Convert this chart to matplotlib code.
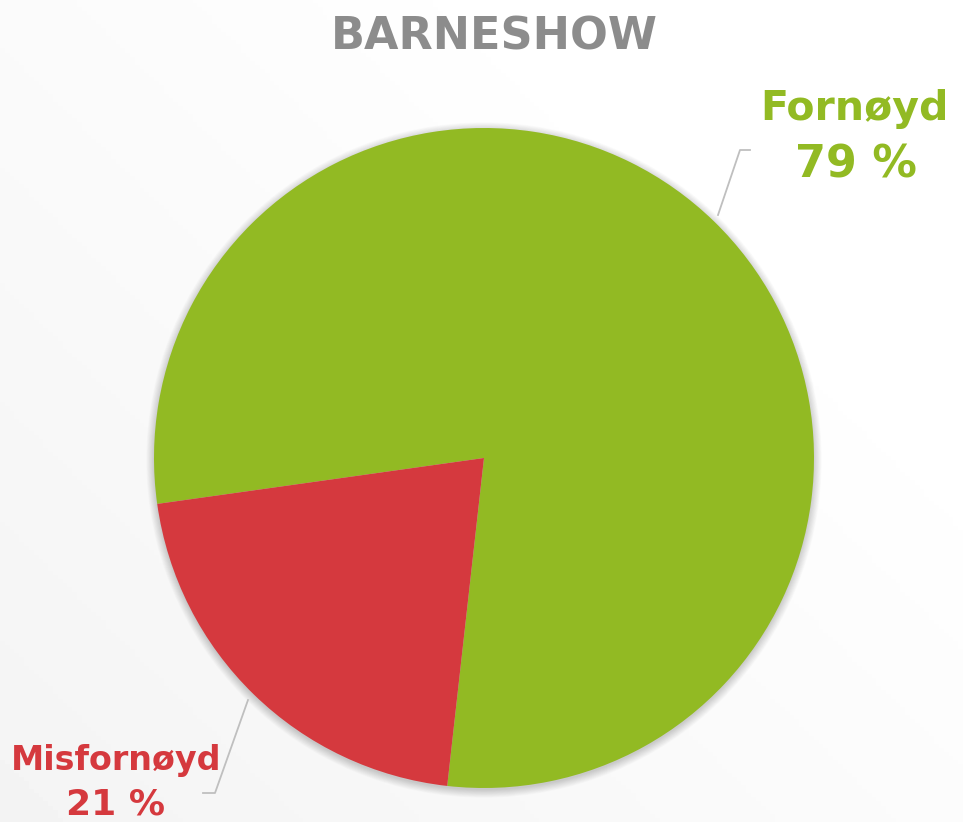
import numpy as np
import matplotlib.pyplot as plt
from matplotlib.patches import Circle

labels = ['Fornøyd', 'Misfornøyd']
values = [79, 21]
colors = ['#92BA23', '#D5393E']
title = 'BARNESHOW'

W, H = 963, 822
fig = plt.figure(figsize=(W / 100, H / 100), dpi=100)
ax = fig.add_axes([0, 0, 1, 1])

# light background gradient (grey bottom-left -> white right)
gx, gy = np.meshgrid(np.linspace(0, 1, 200), np.linspace(0, 1, 200))
grad = 0.955 + 0.045 * np.clip(0.7 * gx + 0.6 * gy, 0, 1)
ax.imshow(grad, cmap='gray', vmin=0, vmax=1, extent=[0, W, 0, H],
          origin='lower', aspect='auto', zorder=0)

cx, cy, r = 484, H - 458, 330

# soft shadow round the pie
for k in range(12):
    ax.add_patch(Circle((cx, cy - 2), r + k * 0.7, color='black',
                        alpha=0.014, lw=0, zorder=1))

ax.pie(values, colors=colors, startangle=188, counterclock=False,
       center=(cx, cy), radius=r, wedgeprops=dict(linewidth=0, zorder=2),
       frame=True)
ax.set_xlim(0, W)
ax.set_ylim(0, H)
ax.axis('off')

font = 'DejaVu Sans'
ax.text(494, H - 50, title, ha='center', va='baseline', fontsize=32,
        fontweight='bold', color='#8C8C8C', family=font)

# leader lines
ax.plot([718, 740, 750], [H - 215, H - 150, H - 150], color='#BFBFBF', lw=1.3, zorder=3)
ax.plot([248, 215, 203], [H - 700, H - 793, H - 793], color='#BFBFBF', lw=1.3, zorder=3)

ax.text(855, H - 120, labels[0], ha='center', va='baseline', fontsize=29.5,
        fontweight='bold', color=colors[0], family=font)
ax.text(856, H - 178, f'{values[0]} %', ha='center', va='baseline', fontsize=32,
        fontweight='bold', color=colors[0], family=font)
ax.text(116, H - 770, labels[1], ha='center', va='baseline', fontsize=24,
        fontweight='bold', color=colors[1], family=font)
ax.text(116, H - 814, f'{values[1]} %', ha='center', va='baseline', fontsize=26,
        fontweight='bold', color=colors[1], family=font)

fig.savefig('out.png', dpi=100)
